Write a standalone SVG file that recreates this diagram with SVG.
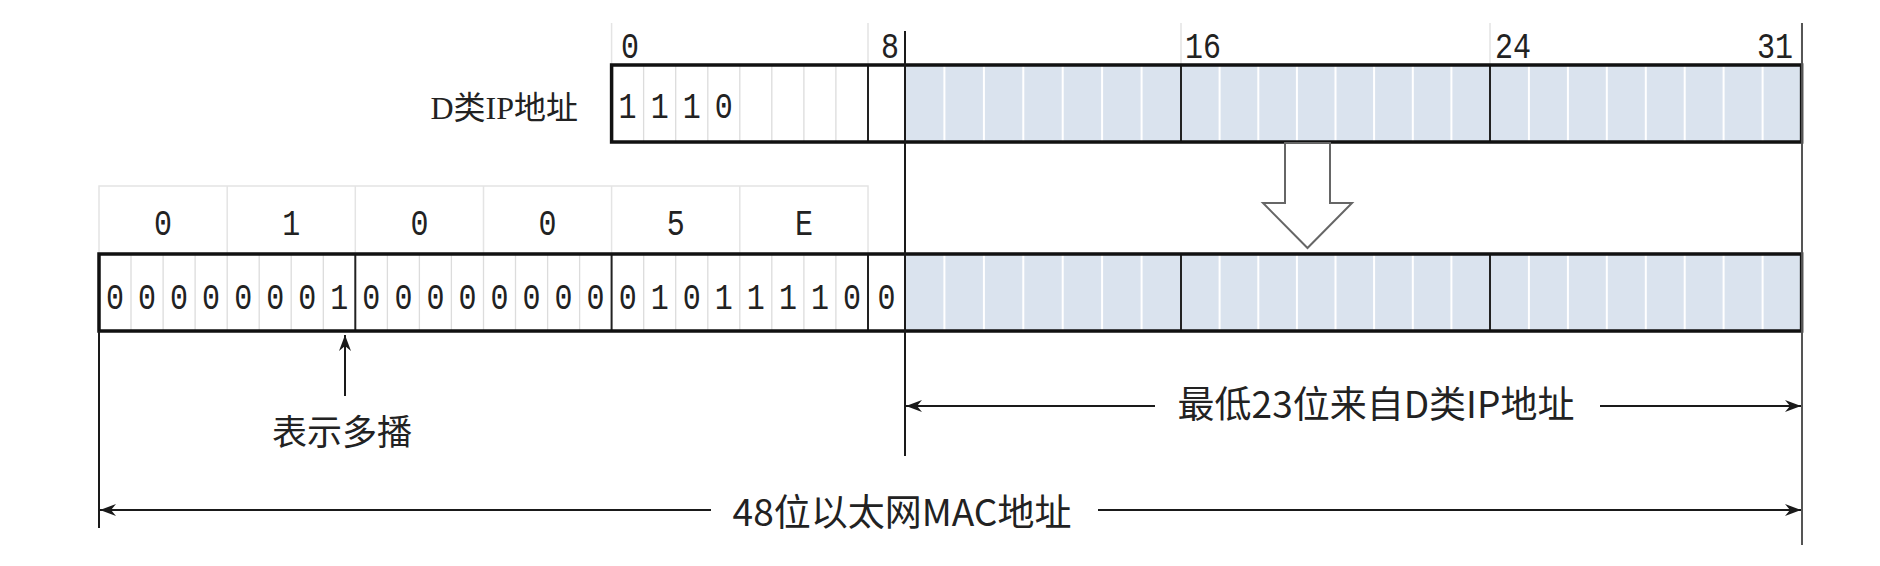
<svg xmlns="http://www.w3.org/2000/svg" xmlns:xlink="http://www.w3.org/1999/xlink" width="1880" height="566" viewBox="0 0 1880 566">
<style>
.bg{fill:#ffffff}
.frame{fill:none;stroke:#111;stroke-width:3.5}
.shade{fill:#dae3ee;stroke:none}
.wbit{stroke:#ffffff;stroke-width:2;fill:none}
.gbit{stroke:#dcdcdc;stroke-width:1.3;fill:none}
.div{stroke:#222;stroke-width:2;fill:none}
.hdr{stroke:#e4e4e4;stroke-width:1.5;fill:none}
.mono{font-family:"Liberation Mono","DejaVu Sans Mono",monospace;font-size:30px;fill:#222}
.mid{text-anchor:middle}
.lbl{font-family:"Noto Sans CJK SC","Noto Sans",sans-serif;fill:#222}
.serif{font-family:"Liberation Serif","Noto Sans CJK SC",serif;fill:#222}
.conn{stroke:#1a1a1a;stroke-width:2;fill:none}
</style>
<defs>
<marker id="ah" markerUnits="userSpaceOnUse" markerWidth="18" markerHeight="14" refX="16" refY="6" orient="auto">
<path d="M0,0 L16,6 L0,12 L5,6 Z" fill="#1a1a1a"/>
</marker>
<path id="shadeBits" d="M944.4 0v77M983.9 0v77M1023.3 0v77M1062.7 0v77M1102.1 0v77M1141.6 0v77M1219.6 0v77M1258.3 0v77M1296.9 0v77M1335.5 0v77M1374.1 0v77M1412.8 0v77M1451.4 0v77M1528.9 0v77M1567.9 0v77M1606.8 0v77M1645.8 0v77M1684.7 0v77M1723.6 0v77M1762.6 0v77"/>
</defs>
<rect class="bg" x="0" y="0" width="1880" height="566"/>

<g id="bit-index-header">
<path class="hdr" d="M611.6 23V65M868 23V65M1181 23V65M1490 23V65M1801.6 23V65"/>
<g class="mono" transform="translate(0,58) scale(1,1.25)">
<text x="621" y="0">0</text>
<text x="899" y="0" text-anchor="end">8</text>
<text x="1185" y="0">16</text>
<text x="1495" y="0">24</text>
<text x="1793" y="0" text-anchor="end">31</text>
</g>
</g>

<g id="ip-label">
<text class="serif" x="578" y="119" font-size="32" text-anchor="end">D类IP地址</text>
</g>

<g id="ip-box">
<rect class="shade" x="905" y="65" width="896.6" height="77"/>
<use xlink:href="#shadeBits" href="#shadeBits" class="wbit" transform="translate(0,65)"/>
<path class="gbit" d="M643.6 65v77M675.7 65v77M707.8 65v77M739.8 65v77M771.8 65v77M803.9 65v77M835.9 65v77"/>
<path class="div" d="M868 65v77M1181 65v77M1490 65v77"/>
<rect class="frame" x="611.6" y="65" width="1190" height="77"/>
<g class="mono mid" transform="translate(0,118) scale(1,1.25)">
<text x="627.6" y="0">1</text>
<text x="659.7" y="0">1</text>
<text x="691.7" y="0">1</text>
<text x="723.8" y="0">0</text>
</g>
</g>

<g id="mac-hex-header">
<rect class="hdr" x="99" y="186" width="769" height="68"/>
<path class="hdr" d="M227.2 186v68M355.3 186v68M483.5 186v68M611.6 186v68M739.8 186v68"/>
<g class="mono mid" transform="translate(0,235) scale(1,1.25)">
<text x="163.1" y="0">0</text>
<text x="291.2" y="0">1</text>
<text x="419.4" y="0">0</text>
<text x="547.6" y="0">0</text>
<text x="675.7" y="0">5</text>
<text x="803.9" y="0">E</text>
</g>
</g>

<g id="mac-box">
<rect class="shade" x="905" y="254" width="896.6" height="77"/>
<use xlink:href="#shadeBits" href="#shadeBits" class="wbit" transform="translate(0,254)"/>
<path class="gbit" d="M131 254v77M163.1 254v77M195.1 254v77M227.2 254v77M259.2 254v77M291.2 254v77M323.3 254v77M387.4 254v77M419.4 254v77M451.4 254v77M483.5 254v77M515.5 254v77M547.6 254v77M579.6 254v77M643.7 254v77M675.7 254v77M707.8 254v77M739.8 254v77M771.8 254v77M803.9 254v77M835.9 254v77"/>
<path class="div" d="M355.3 254v77M611.6 254v77M868 254v77M1181 254v77M1490 254v77"/>
<rect class="frame" x="99" y="254" width="1702.6" height="77"/>
<g class="mono mid" transform="translate(0,309) scale(1,1.25)">
<text x="115" y="0">0</text><text x="147.1" y="0">0</text><text x="179.1" y="0">0</text><text x="211.1" y="0">0</text>
<text x="243.2" y="0">0</text><text x="275.2" y="0">0</text><text x="307.3" y="0">0</text><text x="339.3" y="0">1</text>
<text x="371.3" y="0">0</text><text x="403.4" y="0">0</text><text x="435.4" y="0">0</text><text x="467.5" y="0">0</text>
<text x="499.5" y="0">0</text><text x="531.5" y="0">0</text><text x="563.6" y="0">0</text><text x="595.6" y="0">0</text>
<text x="627.7" y="0">0</text><text x="659.7" y="0">1</text><text x="691.7" y="0">0</text><text x="723.8" y="0">1</text>
<text x="755.8" y="0">1</text><text x="787.9" y="0">1</text><text x="819.9" y="0">1</text><text x="851.9" y="0">0</text>
<text x="886.5" y="0">0</text>
</g>
</g>

<g id="multicast-label">
<text class="lbl" x="342" y="445" font-size="35" text-anchor="middle">表示多播</text>
</g>

<g id="low23-label">
<text class="lbl" x="1376" y="418" font-size="37" text-anchor="middle">最低23位来自D类IP地址</text>
</g>

<g id="mac48-label">
<text class="lbl" x="902" y="526" font-size="37" text-anchor="middle">48位以太网MAC地址</text>
</g>

<g id="connectors">
<line class="conn" x1="905" y1="31" x2="905" y2="456" stroke="#222"/>
<line x1="1802" y1="23" x2="1802" y2="545" stroke="#555" stroke-width="2"/>
<line class="conn" x1="99" y1="331" x2="99" y2="528"/>
<polygon points="1285,143 1285,203 1263,203 1307.5,248 1352,203 1330,203 1330,143" fill="#ffffff" stroke="#666" stroke-width="2"/>
<line class="conn" x1="345" y1="396" x2="345" y2="335" marker-end="url(#ah)"/>
<line class="conn" x1="1155" y1="406" x2="906" y2="406" marker-end="url(#ah)"/>
<line class="conn" x1="1600" y1="406" x2="1801" y2="406" marker-end="url(#ah)"/>
<line class="conn" x1="711" y1="510" x2="100" y2="510" marker-end="url(#ah)"/>
<line class="conn" x1="1098" y1="510" x2="1801" y2="510" marker-end="url(#ah)"/>
</g>
</svg>
